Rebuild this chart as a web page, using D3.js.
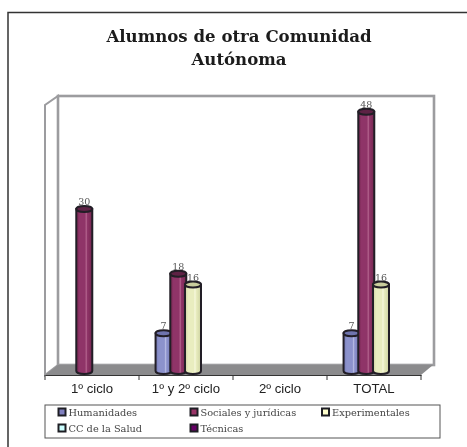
<!DOCTYPE html>
<html>
<head>
<meta charset="utf-8">
<script src="https://cdnjs.cloudflare.com/ajax/libs/d3/7.8.5/d3.min.js"></script>
<style>
  html, body { margin: 0; padding: 0; background: #fff; overflow: hidden; }
  svg { display: block; filter: blur(0.35px); }
</style>
</head>
<body>
<div id="viz"></div>
<script>
const categories = ["1º ciclo", "1º y 2º ciclo", "2º ciclo", "TOTAL"];
const seriesNames = ["Humanidades", "Sociales y jurídicas", "Experimentales", "CC de la Salud", "Técnicas"];
const humanidades = [null, 7, null, 7];
const sociales = [30, 18, null, 48];
const experimentales = [null, 16, null, 16];
const salud = [null, null, null, null];
const tecnicas = [null, null, null, null];
const allSeries = [humanidades, sociales, experimentales, salud, tecnicas];
const yTop = 50;

const width = 467;
const height = 447;

// colores: medio, claro, sombra, tapa
const barColors = [
  ["#8c92cc", "#b4b8e2", "#7378b4", "#6f74ae"],
  ["#8f3468", "#b5658f", "#74264f", "#5e2245"],
  ["#e9edbf", "#f7f8de", "#cdd2a0", "#c9cd9c"],
  ["#ccffff", "#e8ffff", "#a8dcdc", "#a8dcdc"],
  ["#660066", "#8a308a", "#4e004e", "#4e004e"]
];
const swatchColors = ["#8080c0", "#993366", "#ffffcc", "#ccffff", "#660066"];

const svg = d3.select("#viz").append("svg")
  .attr("width", width)
  .attr("height", height);

// marco exterior (solo arriba e izquierda quedan dentro de la imagen)
svg.append("path")
  .attr("d", "M8,447V12.5H467")
  .attr("fill", "none")
  .attr("stroke", "#333")
  .attr("stroke-width", 1.5);

const title = svg.append("text")
  .attr("text-anchor", "middle")
  .attr("font-family", "'DejaVu Serif'")
  .attr("font-weight", "bold")
  .attr("font-size", 16.6)
  .attr("fill", "#1c1c1c");
title.append("tspan").attr("x", 239).attr("y", 41.5).text("Alumnos de otra Comunidad");
title.append("tspan").attr("x", 239).attr("y", 65).text("Autónoma");

const floorY = 375;
const depthX = 13;
const depthY = 10;
const left = 45;
const right = 421;
const wallTop = 96;

const x0 = d3.scaleBand().domain(categories).range([left, right]);
const x1 = d3.scaleBand().domain(seriesNames).range([10.2, 83.8]);
const y = d3.scaleLinear().domain([0, yTop]).range([371, 101]);
const barShift = 7;
const r = 8;
const ry = 3;

const wallColor = "#9c9c9f";

// paredes
svg.append("path")
  .attr("d", `M${left},${floorY}V${wallTop + depthY - 1}L${left + depthX},${wallTop}V${floorY - depthY}Z`)
  .attr("fill", "#fff")
  .attr("stroke", wallColor)
  .attr("stroke-width", 2);
svg.append("rect")
  .attr("x", left + depthX)
  .attr("y", wallTop)
  .attr("width", right - left)
  .attr("height", floorY - depthY - wallTop)
  .attr("fill", "#fff")
  .attr("stroke", wallColor)
  .attr("stroke-width", 2.6);

// suelo
svg.append("path")
  .attr("d", `M${left},${floorY}L${left + depthX},${floorY - depthY}H${right + depthX - 1}L${right},${floorY}Z`)
  .attr("fill", "#8b8b8d");

// eje
const axis = svg.append("g")
  .attr("transform", `translate(0,${floorY})`)
  .call(d3.axisBottom(x0).tickSize(0).tickPadding(9));
axis.select(".domain").attr("stroke", "#333").attr("stroke-width", 1);
axis.selectAll("text")
  .attr("font-family", "'Liberation Sans'")
  .attr("font-size", 13.2)
  .attr("fill", "#222");
axis.selectAll(".sep")
  .data(categories.map(c => x0(c)).concat(right))
  .enter().append("line")
  .attr("class", "sep")
  .attr("x1", d => d).attr("x2", d => d)
  .attr("y1", 0).attr("y2", 5)
  .attr("stroke", "#333");

// degradados de los cilindros
const defs = svg.append("defs");
seriesNames.forEach((name, i) => {
  const g = defs.append("linearGradient").attr("id", "bar" + i);
  const [base, light, shade] = barColors[i];
  [[0, shade], [0.2, base], [0.55, base], [0.62, light], [0.7, base], [1, shade]].forEach(s => {
    g.append("stop").attr("offset", s[0]).attr("stop-color", s[1]);
  });
});

// cilindros
const barData = [];
seriesNames.forEach((name, i) => {
  allSeries[i].forEach((v, j) => {
    if (v !== null) barData.push({ s: i, name, cat: categories[j], value: v });
  });
});

const cx = d => x0(d.cat) + x1(d.name) + x1.bandwidth() / 2 + barShift;

const bars = svg.selectAll(".barra")
  .data(barData)
  .enter().append("g")
  .attr("class", "barra");

bars.append("path")
  .attr("d", d => {
    const c = cx(d);
    return `M${c - r},${y(d.value)}V${y(0)}A${r},${ry} 0 0 0 ${c + r},${y(0)}V${y(d.value)}Z`;
  })
  .attr("fill", d => `url(#bar${d.s})`)
  .attr("stroke", "#221e26")
  .attr("stroke-width", 2);

bars.append("ellipse")
  .attr("cx", cx)
  .attr("cy", d => y(d.value))
  .attr("rx", r)
  .attr("ry", ry)
  .attr("fill", d => barColors[d.s][3])
  .attr("stroke", "#221e26")
  .attr("stroke-width", 2);

bars.append("text")
  .attr("x", cx)
  .attr("y", d => y(d.value) - 4)
  .attr("text-anchor", "middle")
  .attr("font-family", "'DejaVu Serif'")
  .attr("font-size", 9.5)
  .attr("fill", "#555")
  .text(d => d.value);

// leyenda
svg.append("rect")
  .attr("x", 45)
  .attr("y", 405)
  .attr("width", 395)
  .attr("height", 33)
  .attr("fill", "#fff")
  .attr("stroke", "#555")
  .attr("stroke-width", 1);

const legendCols = [58.5, 190.5, 322];
const legendRows = [412, 428];
const items = svg.selectAll(".item")
  .data(seriesNames)
  .enter().append("g")
  .attr("class", "item")
  .attr("transform", (d, i) => `translate(${legendCols[i % 3]},${legendRows[Math.floor(i / 3)]})`);

items.append("rect")
  .attr("x", 0).attr("y", -3.5)
  .attr("width", 7).attr("height", 7)
  .attr("fill", (d, i) => swatchColors[i])
  .attr("stroke", "#1e1e24")
  .attr("stroke-width", 2);

items.append("text")
  .attr("x", 10)
  .attr("y", 3.5)
  .attr("font-family", "'DejaVu Serif'")
  .attr("font-size", 9.8)
  .attr("fill", "#444")
  .text(d => d);
</script>
</body>
</html>
